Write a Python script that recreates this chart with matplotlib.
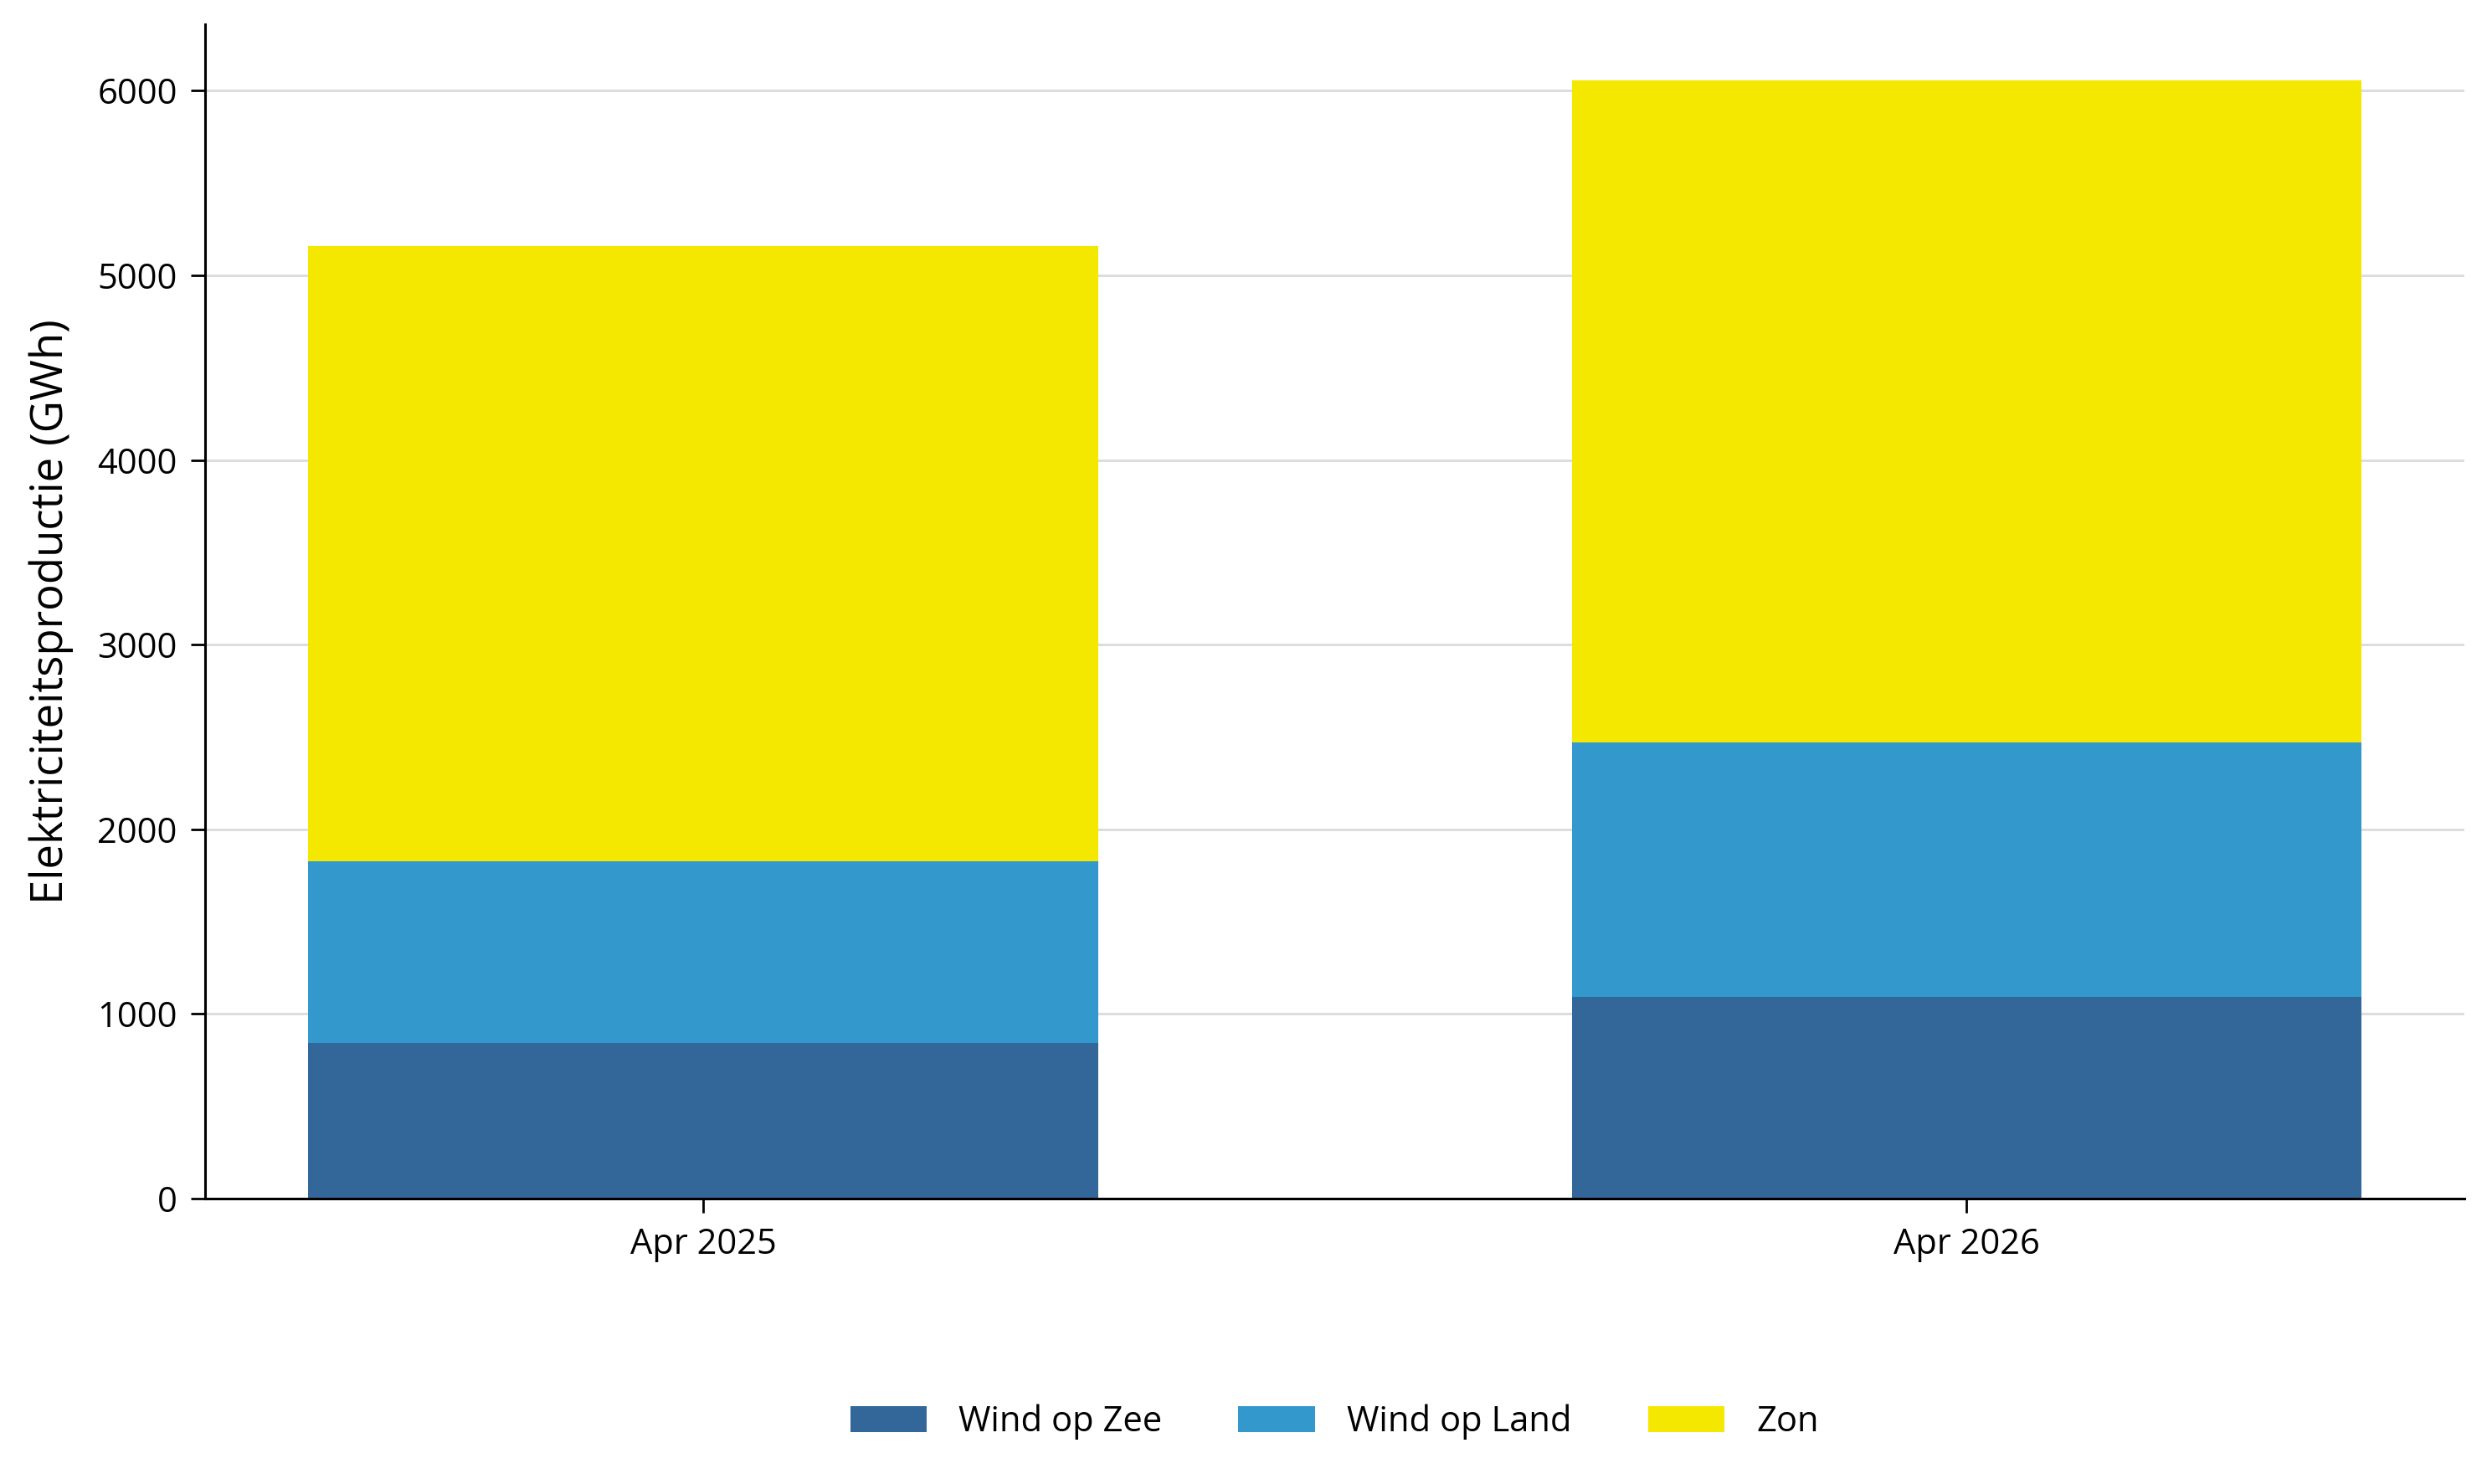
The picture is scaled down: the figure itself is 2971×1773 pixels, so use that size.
import matplotlib
matplotlib.use("Agg")
import matplotlib.pyplot as plt
import numpy as np

plt.rcParams['font.family'] = ['Open Sans', 'DejaVu Sans']

months = ["Apr 2025", "Apr 2026"]
wind_zee = [842, 1092]
wind_land = [984, 1380]
zon = [3334, 3586]

series = ["Wind op Zee", "Wind op Land", "Zon"]
colors = ["#336699", "#3399cc", "#f5e800"]

fig = plt.figure(figsize=(14.855, 8.865), dpi=200)
ax = fig.add_axes([0.0825, 0.1925, 0.9085, 0.7911])

x = np.arange(len(months))
bottom = np.zeros(len(months))
handles = []
for name, vals, col in zip(series, [wind_zee, wind_land, zon], colors):
    b = ax.bar(x, vals, width=0.625, bottom=bottom, color=col, label=name, zorder=2)
    handles.append(b)
    bottom += np.array(vals)

ax.set_xlim(-0.394, 1.394)
ax.set_ylim(0, 6360)
ax.set_yticks(range(0, 7000, 1000))
ax.set_xticks(x)
ax.set_xticklabels(months)

ax.grid(axis='y', color='#dddddd', linewidth=1.1, zorder=0)
ax.set_axisbelow(True)
for s in ['top', 'right']:
    ax.spines[s].set_visible(False)
for s in ['left', 'bottom']:
    ax.spines[s].set_linewidth(1.1)
    ax.spines[s].set_zorder(3)

ax.tick_params(axis='y', length=6, width=1.0, pad=6, labelsize=15)
ax.tick_params(axis='x', length=6, width=1.0, pad=6.5, labelsize=15)
ax.set_ylabel("Elektriciteitsproductie (GWh)", fontsize=19, labelpad=10)

fig.legend(handles=handles, labels=series, loc='center',
           bbox_to_anchor=(1594 / 2971, 1 - 1699 / 1773), ncol=3, frameon=False,
           fontsize=15, handlelength=2.2, handleheight=0.77,
           handletextpad=0.9, columnspacing=2.2)

fig.savefig("out.png", dpi=200)
